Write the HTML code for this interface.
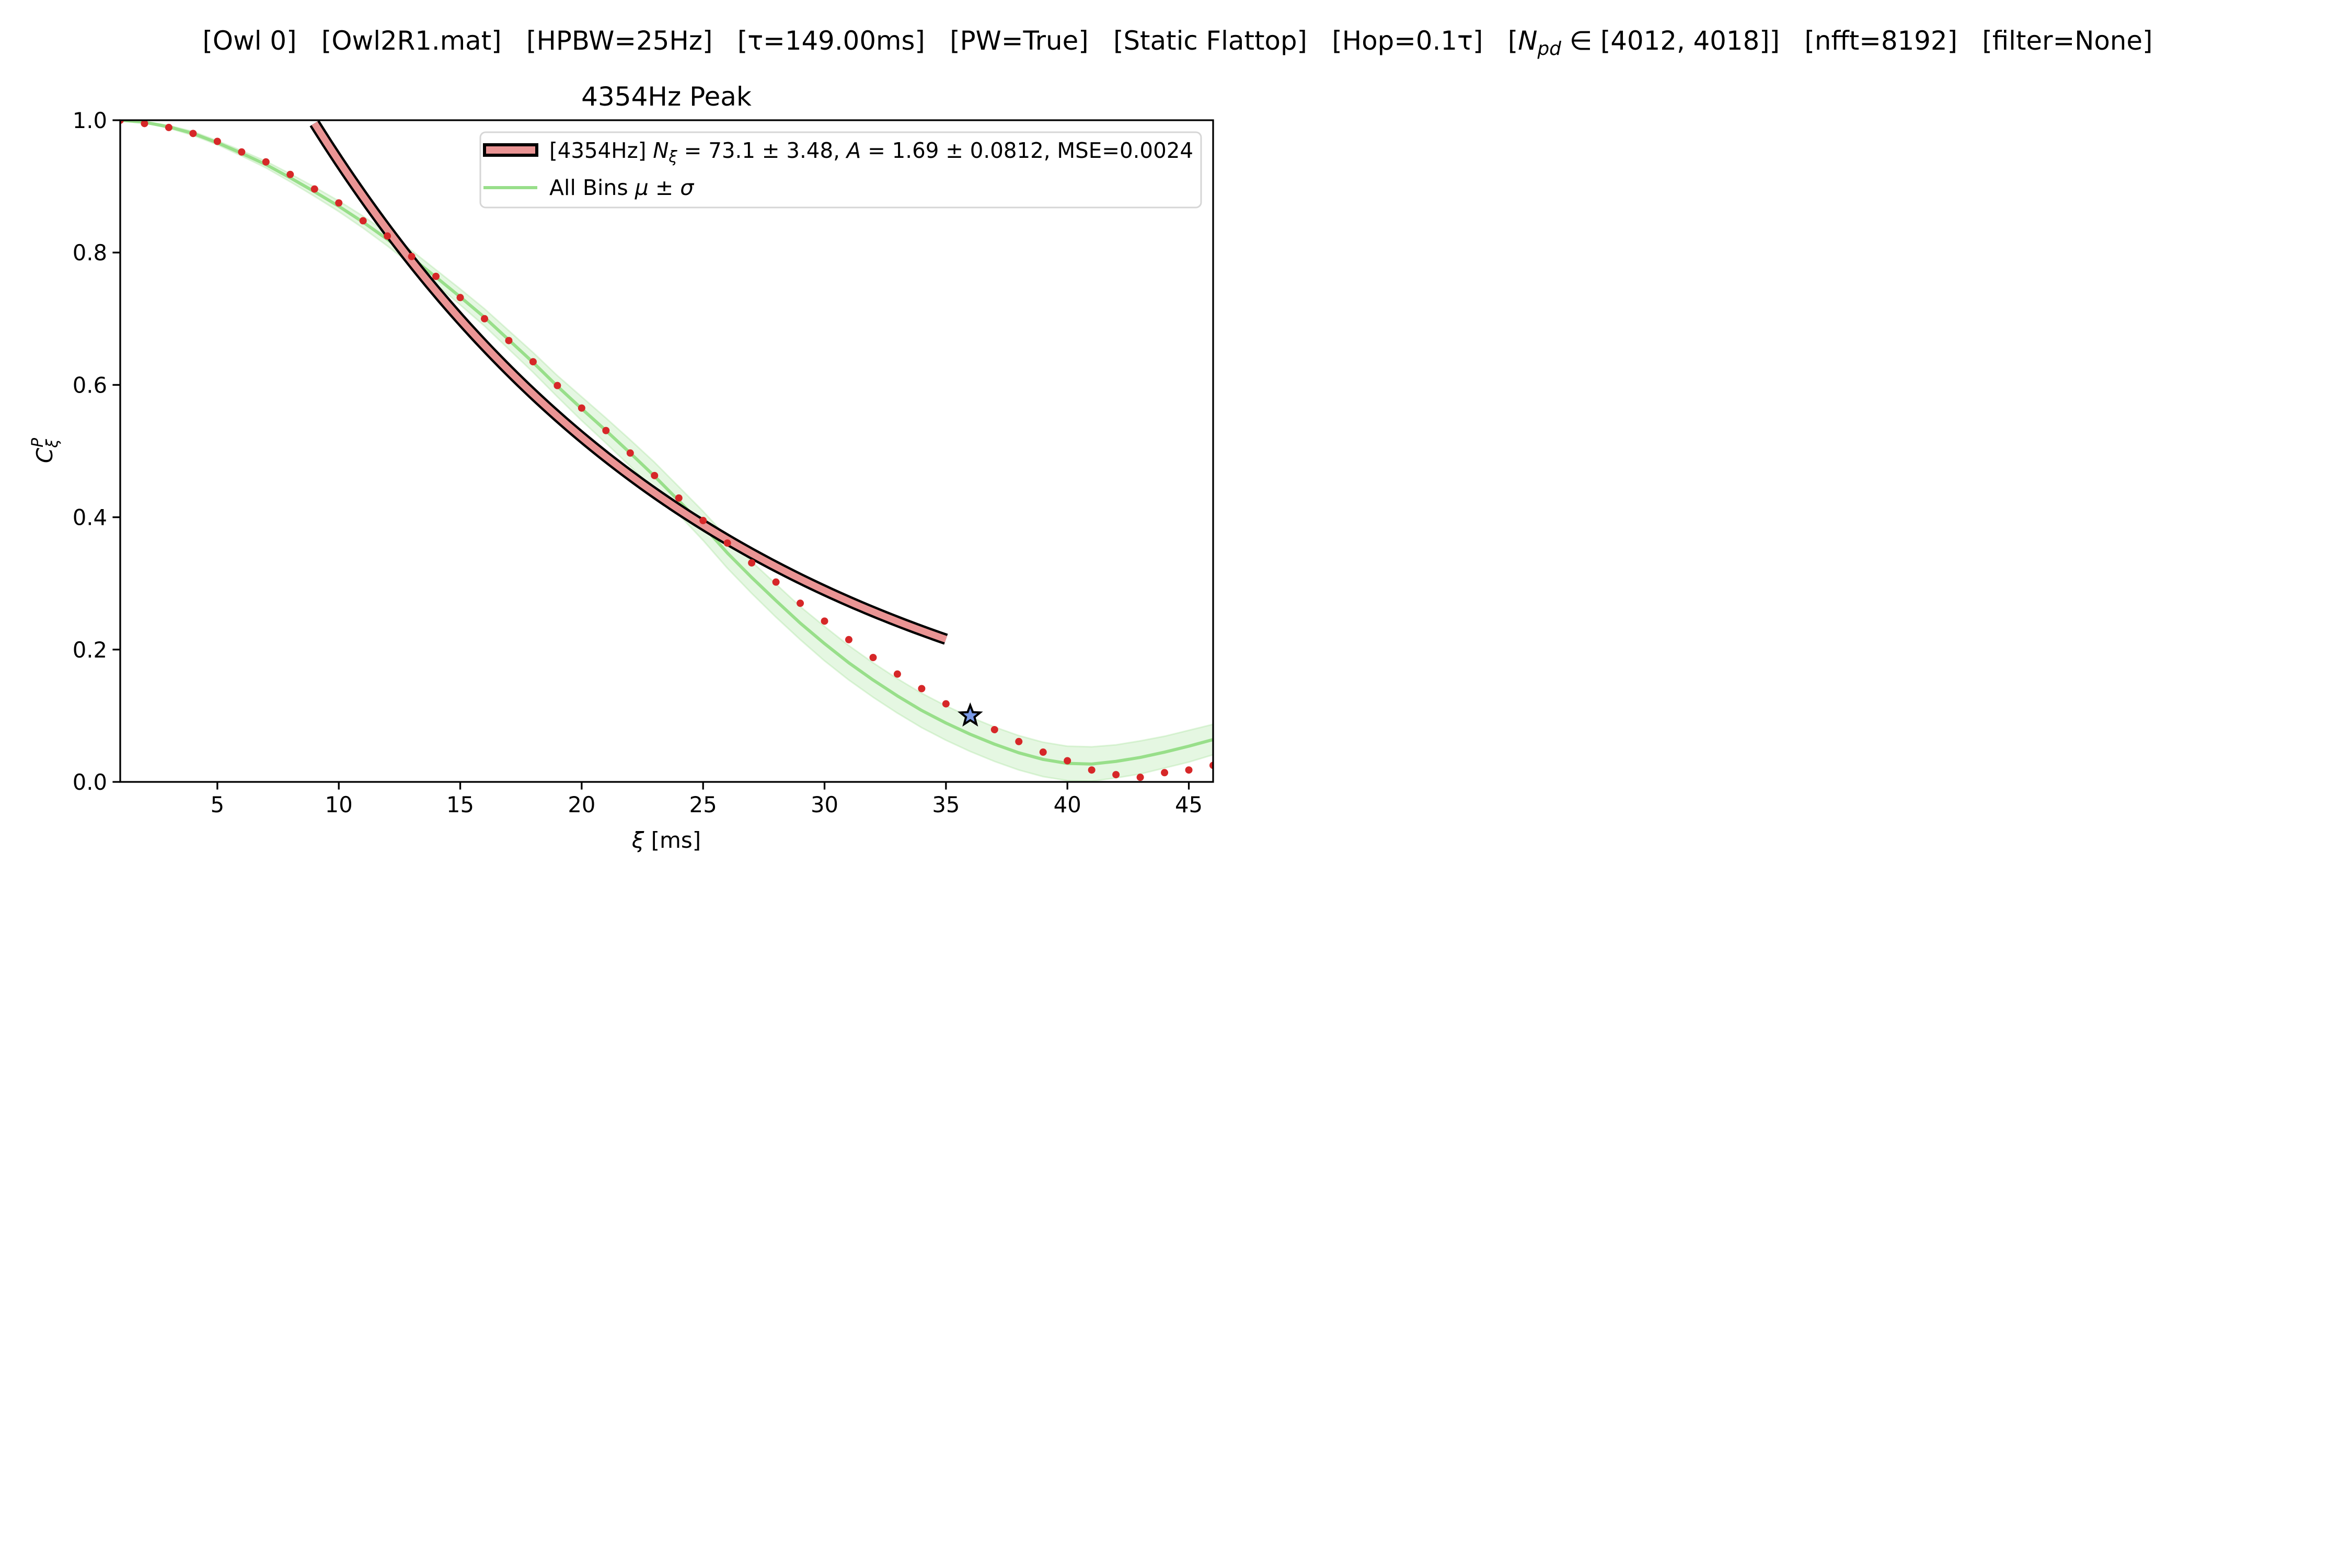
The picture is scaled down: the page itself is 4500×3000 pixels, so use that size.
<!DOCTYPE html>
<html><head><meta charset="utf-8">
<style>
html,body{margin:0;padding:0;background:#fff;}
svg{display:block;}
text{font-family:"DejaVu Sans","Liberation Sans",sans-serif;fill:#000;white-space:pre;}
</style></head>
<body>
<svg id="chart" width="4500" height="3000" viewBox="0 0 4500 3000" xmlns="http://www.w3.org/2000/svg">
<rect width="4500" height="3000" fill="#fff"/>
<text x="2253" y="95" font-size="50" text-anchor="middle" textLength="3731" lengthAdjust="spacingAndGlyphs" xml:space="preserve">[Owl 0]   [Owl2R1.mat]   [HPBW=25Hz]   [τ=149.00ms]   [PW=True]   [Static Flattop]   [Hop=0.1τ]   [<tspan font-style="italic">N</tspan><tspan font-style="italic" font-size="36" dy="10">pd</tspan><tspan dy="-10"> ∈ [4012, 4018]]   [nfft=8192]   [filter=None]</tspan></text>
<text x="1275" y="202" font-size="50" text-anchor="middle">4354Hz Peak</text>
<g id="plot"></g>
<g id="axes"></g>
<text x="1275" y="1622" font-size="42" text-anchor="middle"><tspan font-style="italic">ξ</tspan> [ms]</text>
<text transform="translate(100,862) rotate(-90)" font-size="42" text-anchor="middle"><tspan font-style="italic">C</tspan><tspan font-style="italic" font-size="30" dy="10">ξ</tspan><tspan font-style="italic" font-size="30" dx="-16" dy="-28">P</tspan></text>
<g>
<rect x="919" y="253" width="1379" height="144" rx="10" fill="#fff" fill-opacity="0.8" stroke="#d6d6d6" stroke-width="3"/>
<g>
<rect x="927" y="277" width="100" height="20" fill="#ea9494" stroke="#000" stroke-width="6"/>
<text x="1051" y="302" font-size="41" textLength="1232" lengthAdjust="spacingAndGlyphs">[4354Hz] <tspan font-style="italic">N</tspan><tspan font-style="italic" font-size="30" dy="8">ξ</tspan><tspan dy="-8"> = 73.1 ± 3.48, </tspan><tspan font-style="italic">A</tspan> = 1.69 ± 0.0812, MSE=0.0024</text>
</g>
<g>
<line x1="925" y1="359" x2="1028" y2="359" stroke="#98df8a" stroke-width="6"/>
<text x="1051" y="373" font-size="41">All Bins <tspan font-style="italic">μ</tspan> ± <tspan font-style="italic">σ</tspan></text>
</g>
</g>
</svg>
<script>
const xiPoints = [1,2,3,4,5,6,7,8,9,10,11,12,13,14,15,16,17,18,19,20,21,22,23,24,25,26,27,28,29,30,31,32,33,34,35,36,37,38,39,40,41,42,43,44,45,46];
const peakValues = [1.0,0.995,0.989,0.98,0.968,0.952,0.937,0.918,0.896,0.875,0.848,0.825,0.794,0.764,0.732,0.70,0.667,0.635,0.599,0.565,0.531,0.497,0.463,0.429,0.395,0.361,0.331,0.302,0.27,0.243,0.215,0.188,0.163,0.141,0.118,0.1,0.079,0.061,0.045,0.032,0.018,0.011,0.007,0.014,0.018,0.025];
const meanValues = [1.0,0.997,0.99,0.98,0.966,0.95,0.933,0.913,0.892,0.87,0.846,0.82,0.792,0.763,0.733,0.702,0.668,0.634,0.598,0.564,0.531,0.497,0.462,0.425,0.387,0.346,0.309,0.274,0.24,0.209,0.18,0.154,0.13,0.108,0.089,0.072,0.057,0.044,0.034,0.028,0.027,0.031,0.037,0.045,0.054,0.064];
const sigmaValues = [0,0.001,0.002,0.003,0.003,0.004,0.005,0.006,0.007,0.008,0.009,0.01,0.011,0.011,0.012,0.013,0.014,0.015,0.016,0.018,0.019,0.02,0.021,0.021,0.022,0.023,0.024,0.025,0.025,0.026,0.026,0.026,0.026,0.026,0.026,0.026,0.026,0.026,0.026,0.026,0.026,0.025,0.025,0.024,0.024,0.023];
const fitA = 1.69;
const fitN = 73.1;
const fitScale = 4.3;
const fitRange = [9, 35];
const starPoint = [36, 0.1];
const xTicks = [5,10,15,20,25,30,35,40,45];
const yTicks = [0.0,0.2,0.4,0.6,0.8,1.0];
const xDomain = [1, 46];
const yDomain = [0, 1];

const L=230, R=2321, T=230, B=1496;
const sx = v => L + (v - xDomain[0]) / (xDomain[1] - xDomain[0]) * (R - L);
const sy = v => B - (v - yDomain[0]) / (yDomain[1] - yDomain[0]) * (B - T);
const NS = "http://www.w3.org/2000/svg";
function mk(tag, attrs, parent){const e=document.createElementNS(NS,tag);for(const k in attrs)e.setAttribute(k,attrs[k]);parent.appendChild(e);return e;}
const plot = document.getElementById('plot');
const axes = document.getElementById('axes');
const cp = mk('clipPath',{id:'clip'},plot);
mk('rect',{x:L,y:T,width:R-L,height:B-T},cp);
const g = mk('g',{'clip-path':'url(#clip)'},plot);

let up = xiPoints.map((x,i)=>sx(x)+','+sy(meanValues[i]+sigmaValues[i]));
let lo = xiPoints.map((x,i)=>sx(x)+','+sy(meanValues[i]-sigmaValues[i])).reverse();
const band = mk('polygon',{points:up.concat(lo).join(' '),fill:'#98df8a','fill-opacity':'0.25',stroke:'#98df8a','stroke-opacity':'0.3','stroke-width':'3','stroke-linejoin':'round'},g);


const mean = mk('polyline',{points:xiPoints.map((x,i)=>sx(x)+','+sy(meanValues[i])).join(' '),fill:'none',stroke:'#98df8a','stroke-width':'6','stroke-linejoin':'round'},g);



const fp=[];
for(let x=fitRange[0]; x<=fitRange[1]+1e-9; x+=0.25){fp.push(sx(x)+','+sy(fitA*Math.exp(-x*fitScale/fitN)));}
const fitOuter = mk('polyline',{points:fp.join(' '),fill:'none',stroke:'#000','stroke-width':'22','stroke-linecap':'butt'},g);


const fitInner = mk('polyline',{points:fp.join(' '),fill:'none',stroke:'#ea9494','stroke-width':'13','stroke-linecap':'butt'},g);



xiPoints.forEach((x,i)=>{
  const c = mk('circle',{cx:sx(x),cy:sy(peakValues[i]),r:7,fill:'#d62728'},g);
  
  
});
(function(){
  const cx=sx(starPoint[0]), cy=sy(starPoint[1]), ro=20, ri=8.5; const pts=[];
  for(let k=0;k<10;k++){const a=-Math.PI/2+k*Math.PI/5;const r=k%2?ri:ro;pts.push((cx+r*Math.cos(a))+','+(cy+r*Math.sin(a)));}
  const s = mk('polygon',{points:pts.join(' '),fill:'#7b9be8',stroke:'#000','stroke-width':'4'},plot);
  
  
})();

const fr = mk('rect',{x:L,y:T,width:R-L,height:B-T,fill:'none',stroke:'#000','stroke-width':'3.3'},axes);


xTicks.forEach(t=>{
  const x=sx(t);
  const tk = mk('line',{x1:x,y1:B,x2:x,y2:B+14.6,stroke:'#000','stroke-width':'3.3'},axes);
  
  
  const tl = mk('text',{x:x,y:B+58,'font-size':'41.7','text-anchor':'middle'},axes);
  tl.textContent = String(t);
  
  
});
yTicks.forEach(t=>{
  const y=sy(t);
  const tk = mk('line',{x1:L-14.6,y1:y,x2:L,y2:y,stroke:'#000','stroke-width':'3.3'},axes);
  
  
  const tl = mk('text',{x:L-25,y:y+15,'font-size':'41.7','text-anchor':'end'},axes);
  tl.textContent = t.toFixed(1);
  
  
});
</script>
</body></html>
